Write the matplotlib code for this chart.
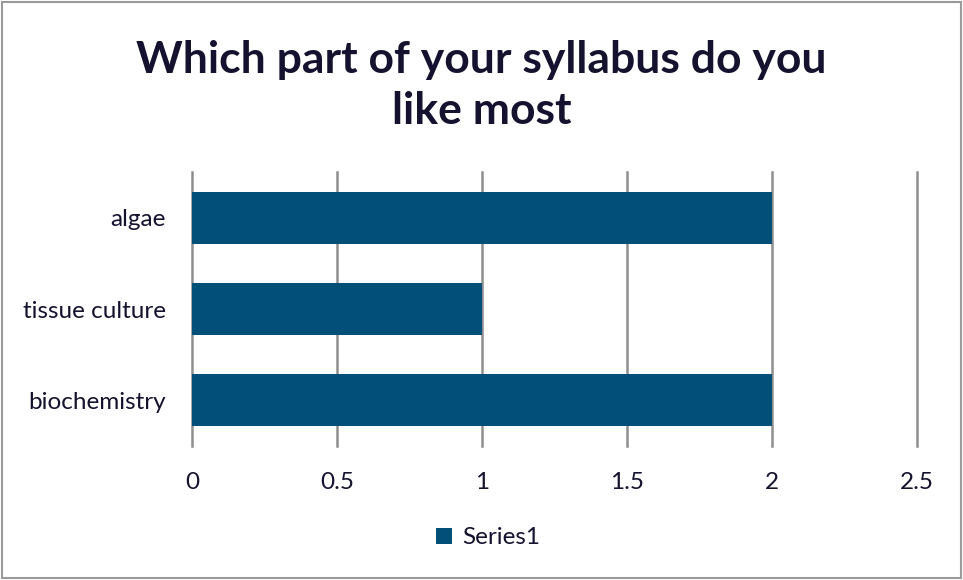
import matplotlib.pyplot as plt
from matplotlib.patches import Rectangle

# Chart data
categories = ['biochemistry', 'tissue culture', 'algae']
values = [2, 1, 2]
x_ticks = [0, 0.5, 1, 1.5, 2, 2.5]
x_tick_labels = ['0', '0.5', '1', '1.5', '2', '2.5']
title = 'Which part of your syllabus do you\nlike most'

bar_color = '#02507a'
text_color = '#14122e'
grid_color = '#8e8e8e'

plt.rcParams['font.family'] = ['Lato', 'DejaVu Sans']

fig = plt.figure(figsize=(9.63, 5.8), dpi=100)
ax = fig.add_axes([192 / 963, 134 / 580, 725 / 963, 274 / 580])

ax.barh(range(len(categories)), values, height=0.57, color=bar_color,
        label='Series1', zorder=3)

ax.set_xlim(0, 2.5)
ax.set_ylim(-0.5, len(categories) - 0.5)
ax.set_xticks(x_ticks)
ax.set_xticklabels(x_tick_labels)
ax.set_yticks(range(len(categories)))
ax.set_yticklabels(categories)

ax.grid(axis='x', color=grid_color, linewidth=1.8, zorder=0)
for line in ax.get_xgridlines():
    line.set_clip_on(False)
for side in ax.spines.values():
    side.set_visible(False)
ax.tick_params(axis='both', length=0, labelsize=17.5, labelcolor=text_color)
ax.tick_params(axis='x', pad=19)
ax.tick_params(axis='y', pad=19)

fig.text(0.5, 0.853, title, ha='center', va='center', fontsize=32,
         fontweight='bold', color=text_color, linespacing=1.32)

leg = fig.legend(loc='center', bbox_to_anchor=(0.507, 0.073), frameon=False,
                 fontsize=17.5, handlelength=0.65, handleheight=0.65,
                 handletextpad=0.4)
for t in leg.get_texts():
    t.set_color(text_color)

# Outer chart border
fig.patches.append(Rectangle((0.002, 0.004), 0.996, 0.992, transform=fig.transFigure,
                             fill=False, edgecolor='#9a9a9a', linewidth=1.5))

fig.savefig('out.png', dpi=100)
